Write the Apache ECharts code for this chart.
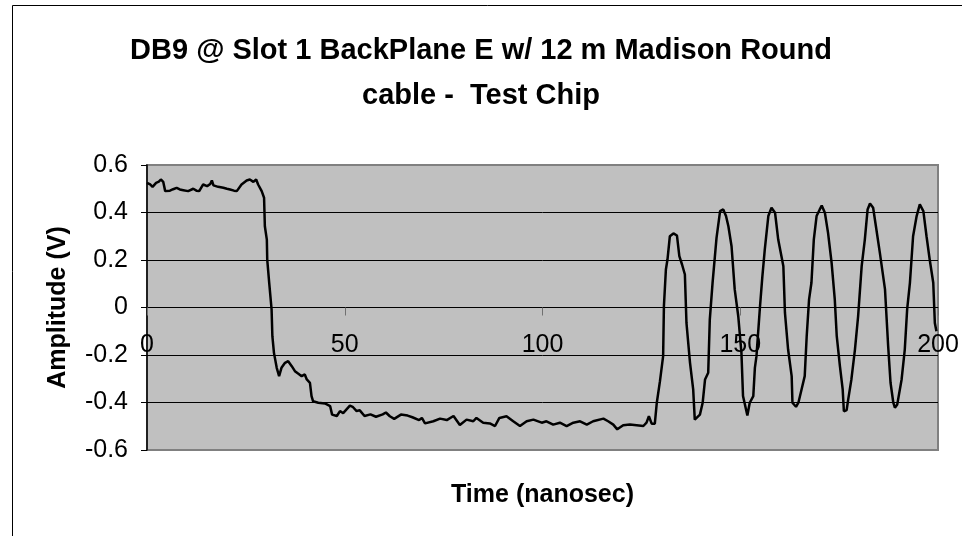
<!DOCTYPE html>
<html>
<head>
<meta charset="utf-8">
<script src="https://cdn.jsdelivr.net/npm/echarts@6/dist/echarts.min.js"></script>
<style>html,body{margin:0;padding:0;background:#fff}#c{width:962px;height:536px}</style>
</head>
<body>
<div id="c"></div>
<script>
var titleLines = ['DB9 @ Slot 1 BackPlane E w/ 12 m Madison Round', 'cable -  Test Chip'];
var xName = 'Time (nanosec)';
var yName = 'Amplitude (V)';
var xTicks = [0, 50, 100, 150, 200];
var yTicks = [-0.6, -0.4, -0.2, 0, 0.2, 0.4, 0.6];

var timeNs = [
0.0,0.8,1.4,2.3,3.0,3.5,4.1,4.6,5.8,6.6,7.5,8.3,9.2,10.4,11.7,12.5,13.2,14.2,15.2,16.0,16.4,16.8,18.0,19.3,20.2,21.0,22.0,22.7,23.9,25.2,26.0,26.9,27.6,28.1,29.0,29.6,29.8,30.3,30.4,30.9,31.5,31.7,32.1,32.8,33.4,34.0,34.9,35.7,36.6,37.4,38.2,39.1,39.9,40.4,41.2,41.6,42.0,43.3,45.0,46.3,46.8,48.0,48.8,49.6,51.3,52.0,53.0,53.8,55.0,56.5,57.9,59.6,60.4,61.4,62.5,64.2,65.9,67.1,68.8,69.5,70.3,72.4,74.1,75.8,77.5,79.1,80.8,82.5,83.3,85.0,86.7,88.0,89.1,90.9,92.6,94.3,96.0,97.7,99.8,101.0,102.7,104.4,106.1,107.8,109.5,111.2,112.8,115.4,116.6,117.9,118.9,120.4,122.1,123.8,125.5,126.3,126.9,127.6,128.4,128.9,129.7,130.5,130.7,131.2,131.6,132.2,133.1,134.0,134.6,135.3,136.0,136.4,137.3,138.1,138.5,139.0,139.8,140.5,141.1,141.9,142.3,143.0,144.0,144.9,145.7,146.4,147.0,147.8,148.6,149.5,150.3,150.7,151.8,152.4,153.3,153.7,154.1,155.0,155.6,156.2,157.1,157.9,158.8,159.6,160.9,161.3,162.1,163.0,163.2,164.1,164.7,165.5,166.3,166.8,167.4,168.0,168.6,169.3,170.1,170.6,171.4,172.2,173.1,173.9,174.4,175.2,175.9,176.2,176.9,177.3,178.1,179.0,179.8,180.7,181.5,182.2,182.8,183.6,184.3,185.3,186.6,187.4,188.0,188.7,189.1,189.7,190.8,191.6,192.2,192.9,193.7,194.6,195.4,196.3,197.1,197.9,198.8,199.2,199.6
];
var amplitudeV = [
0.525,0.518,0.508,0.525,0.530,0.539,0.529,0.490,0.492,0.498,0.504,0.497,0.494,0.490,0.500,0.492,0.490,0.518,0.511,0.520,0.535,0.514,0.508,0.504,0.500,0.497,0.492,0.490,0.518,0.535,0.539,0.529,0.539,0.518,0.490,0.462,0.342,0.286,0.202,0.104,-0.008,-0.121,-0.191,-0.254,-0.289,-0.254,-0.233,-0.226,-0.247,-0.268,-0.278,-0.289,-0.282,-0.303,-0.317,-0.373,-0.395,-0.401,-0.404,-0.415,-0.451,-0.457,-0.436,-0.445,-0.413,-0.418,-0.436,-0.433,-0.457,-0.450,-0.460,-0.450,-0.442,-0.458,-0.469,-0.451,-0.455,-0.462,-0.474,-0.465,-0.488,-0.479,-0.468,-0.474,-0.457,-0.495,-0.472,-0.479,-0.465,-0.485,-0.488,-0.499,-0.465,-0.458,-0.479,-0.499,-0.479,-0.472,-0.485,-0.479,-0.493,-0.485,-0.499,-0.485,-0.479,-0.493,-0.479,-0.468,-0.479,-0.493,-0.513,-0.496,-0.493,-0.496,-0.499,-0.485,-0.458,-0.489,-0.489,-0.401,-0.310,-0.205,0.006,0.160,0.202,0.300,0.312,0.303,0.216,0.180,0.139,-0.065,-0.233,-0.345,-0.472,-0.478,-0.451,-0.401,-0.303,-0.275,-0.051,0.104,0.293,0.406,0.413,0.385,0.342,0.258,0.076,-0.037,-0.191,-0.373,-0.455,-0.401,-0.373,-0.254,-0.205,0.006,0.132,0.244,0.385,0.420,0.399,0.286,0.174,-0.022,-0.177,-0.289,-0.401,-0.418,-0.401,-0.345,-0.289,-0.121,0.034,0.104,0.286,0.385,0.413,0.429,0.399,0.314,0.188,0.034,-0.121,-0.247,-0.345,-0.437,-0.432,-0.387,-0.303,-0.177,-0.037,0.174,0.286,0.413,0.438,0.420,0.342,0.230,0.076,-0.163,-0.317,-0.401,-0.422,-0.408,-0.303,-0.177,-0.008,0.104,0.300,0.385,0.434,0.406,0.300,0.202,0.104,-0.065,-0.100
];

var seriesData = timeNs.map(function (t, i) { return [t, amplitudeV[i]]; });
var FONT = '"Liberation Sans", Arial, sans-serif';
var chart = echarts.init(document.getElementById('c'), null, {renderer: 'canvas'});
chart.setOption({
  animation: false,
  backgroundColor: '#ffffff',
  title: {
    text: titleLines.join('\n'),
    left: 'center',
    top: 23,
    textStyle: {fontFamily: FONT, fontSize: 29, fontWeight: 'bold', color: '#000', lineHeight: 45}
  },
  graphic: [{
    type: 'rect', silent: true, z: -1,
    shape: {x: 12.5, y: 5.5, width: 1000, height: 600},
    style: {fill: null, stroke: '#000', lineWidth: 1}
  }],
  grid: {
    left: 147, right: 24, top: 165, bottom: 86,
    outerBoundsMode: 'none', containLabel: false,
    show: true, backgroundColor: '#C0C0C0', borderColor: '#808080', borderWidth: 2
  },
  xAxis: {
    type: 'value', min: xTicks[0], max: xTicks[xTicks.length - 1], interval: 50,
    position: 'bottom', offset: -142.5,
    name: xName, nameLocation: 'middle', nameGap: 175,
    nameTextStyle: {fontFamily: FONT, fontSize: 25, fontWeight: 'bold', color: '#000'},
    axisLine: {onZero: false, lineStyle: {color: '#000', width: 1}},
    axisTick: {show: true, length: 8, lineStyle: {color: '#707070'}},
    axisLabel: {fontFamily: FONT, fontSize: 25, color: '#000', margin: 25},
    splitLine: {show: false}
  },
  yAxis: {
    type: 'value', min: yTicks[0], max: yTicks[yTicks.length - 1], interval: 0.2,
    name: yName, nameLocation: 'middle', nameGap: 76,
    nameTextStyle: {fontFamily: FONT, fontSize: 25, fontWeight: 'bold', color: '#000'},
    axisLine: {show: true, onZero: false, lineStyle: {color: '#000', width: 1.5}},
    axisTick: {show: true, length: 6, lineStyle: {color: '#000'}},
    axisLabel: {
      fontFamily: FONT, fontSize: 25, color: '#000', margin: 19,
      formatter: function (v) { return Math.abs(v) < 1e-9 ? '0' : v.toFixed(1); }
    },
    splitLine: {show: true, lineStyle: {color: ['#808080', '#000', '#000', '#000', '#000', '#000', '#808080'], width: 1}}
  },
  series: [{
    type: 'line', data: seriesData, showSymbol: false, symbol: 'none',
    lineStyle: {color: '#000', width: 2.5}, clip: true
  }]
});
</script>
</body>
</html>
